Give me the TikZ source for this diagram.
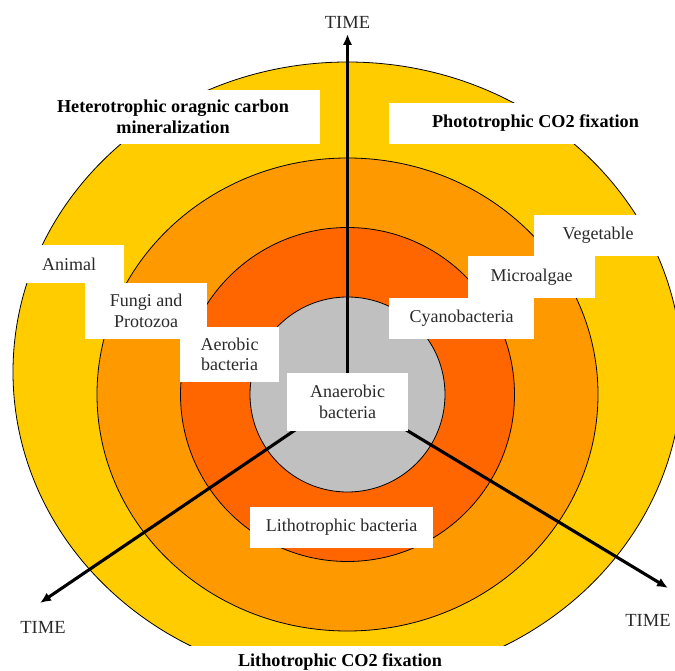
\documentclass[tikz,border=0pt]{standalone}
\usepackage{fontspec}
\setmainfont{Liberation Serif}
\usetikzlibrary{arrows.meta}
\definecolor{cyellow}{HTML}{FFCC00}
\definecolor{corange}{HTML}{FF9900}
\definecolor{cred}{HTML}{FF6600}
\definecolor{cgray}{HTML}{C0C0C0}
\definecolor{ctext}{HTML}{2A2A2A}
\begin{document}
\begin{tikzpicture}[x=1pt,y=-1pt,
  ring/.style={draw=black,line width=0.8pt},
  lbl/.style={fill=white,inner sep=0pt,align=center,text=ctext,font=\fontsize{18}{20.5}\selectfont},
  headlbl/.style={lbl,text=black,font=\bfseries\fontsize{18.2}{20.5}\selectfont},
  timearrow/.style={line width=3.1pt,-{Latex[length=11pt,width=9.5pt]}},
  timelbl/.style={inner sep=0pt,text=ctext,font=\fontsize{18.5}{20}\selectfont}]
\useasboundingbox (0,0) rectangle (675,671);
\coordinate (c) at (347.5,394.5);
\begin{scope}
  \clip (0,0) rectangle (675,645);
  \filldraw[ring,fill=cyellow] (347.5,372) ellipse [x radius=334.5pt, y radius=310pt];
\end{scope}
\filldraw[ring,fill=corange] (c) ellipse [x radius=250.5pt, y radius=236.5pt];
\filldraw[ring,fill=cred] (c) circle [radius=167pt];
\filldraw[ring,fill=cgray] (c) circle [radius=97.5pt];
% arrows
\coordinate (tup) at (347.5,34);
\coordinate (tleft) at (40,603);
\coordinate (tright) at (668,588);
\draw[timearrow] (c) -- (tup);
\draw[timearrow] (c) -- (tleft);
\draw[timearrow] (c) -- (tright);
\node[timelbl] (time1) at (347.5,22) {TIME};
\node[timelbl] (time2) at (43,627) {TIME};
\node[timelbl] (time3) at (648,620) {TIME};
% boxes
\node[headlbl,minimum width=294pt,minimum height=54pt] (hetero) at (173,117) {Heterotrophic oragnic carbon\\mineralization};
\node[headlbl,minimum width=293pt,minimum height=41pt] (photo) at (535.5,123.5) {Phototrophic CO2 fixation};
\node[lbl,minimum width=110pt,minimum height=38pt] (animal) at (69,264) {Animal};
\node[lbl,minimum width=122pt,minimum height=56pt] (fungi) at (146,311) {Fungi and\\Protozoa};
\node[lbl,minimum width=99pt,minimum height=55pt] (aerobic) at (229.5,354.5) {Aerobic\\bacteria};
\node[lbl,minimum width=121pt,minimum height=58pt] (anaerobic) at (347.5,402) {Anaerobic\\bacteria};
\node[lbl,minimum width=145pt,minimum height=41pt] (cyano) at (461.5,318.5) {Cyanobacteria};
\node[lbl,minimum width=127pt,minimum height=42pt] (micro) at (531.5,277) {Microalgae};
\node[lbl,minimum width=128pt,minimum height=41pt] (veg) at (598,235.5) {Vegetable};
\node[lbl,minimum width=183pt,minimum height=41pt] (litho) at (341.5,527.5) {Lithotrophic bacteria};
\node[headlbl,fill=none] (lithofix) at (340,662) {Lithotrophic CO2 fixation};
\end{tikzpicture}
\end{document}
